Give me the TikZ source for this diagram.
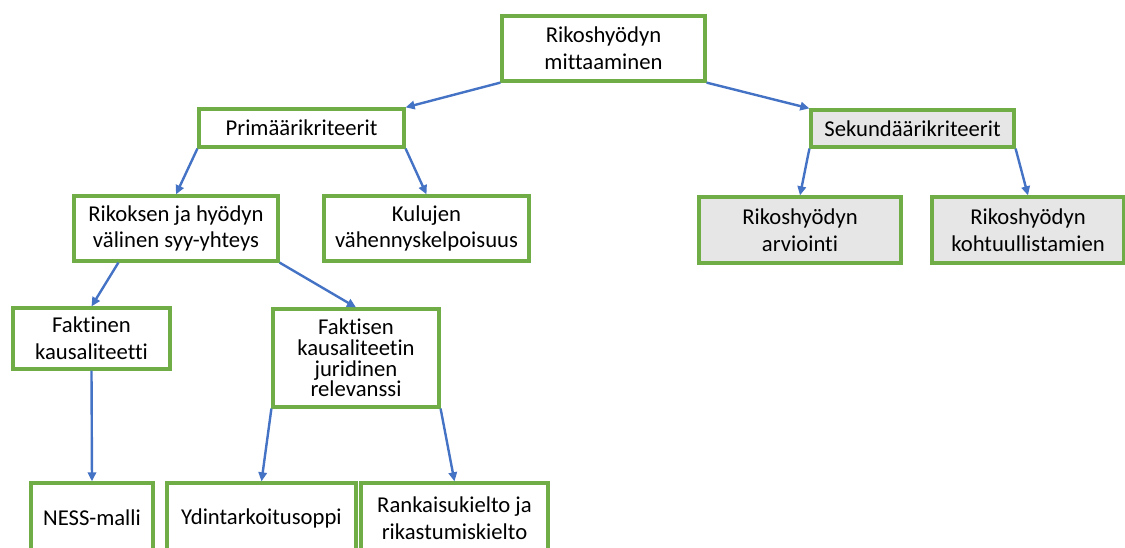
\documentclass[tikz,border=0pt]{standalone}
\usepackage{fontspec}
\setmainfont[Ligatures=NoCommon]{Carlito}
\usepackage{xcolor}
\usetikzlibrary{arrows.meta,positioning,calc}
\definecolor{boxgreen}{RGB}{112,173,71}
\definecolor{linkblue}{RGB}{68,114,196}
\definecolor{boxgray}{RGB}{231,230,230}

\begin{document}
\begin{tikzpicture}[
  x=0.75pt, y=-0.75pt,
  font=\fontsize{17}{20}\selectfont,
  b/.style={draw=boxgreen, line width=2.4pt, fill=white, align=center,
            inner sep=0pt, minimum width=#1*0.75pt},
  b/.default=200,
  g/.style={fill=boxgray},
  ar/.style={-{Triangle[length=2.4mm,width=2.2mm]}, line width=1.8pt, linkblue}
]
\useasboundingbox (0,0) rectangle (1125,547);
\node[b=203, minimum height=65*0.75pt] (top) at (603.5,48.5) {Rikoshyödyn\\mittaaminen};
\node[b=205, minimum height=38*0.75pt] (prim) at (301.5,128) {Primäärikriteerit};
\node[b=203, g, minimum height=37*0.75pt] (sek) at (912.5,128.5) {Sekundäärikriteerit};
\node[b=204, minimum height=65*0.75pt] (rik) at (176,228.5) {Rikoksen ja hyödyn\\välinen syy-yhteys};
\node[b=205, minimum height=65*0.75pt] (kul) at (426.5,228.5) {Kulujen\\vähennyskelpoisuus};
\node[b=202, g, minimum height=66*0.75pt] (arv) at (800,230) {Rikoshyödyn\\arviointi};
\node[b=192, g, minimum height=66*0.75pt] (koh) at (1028,230) {Rikoshyödyn\\kohtuullistamien};
\node[b=157, minimum height=61*0.75pt] (fak) at (91.5,338.5) {Faktinen\\kausaliteetti};
\node[b=166, minimum height=98*0.75pt, font=\fontsize{17}{15.5}\selectfont] (fks) at (356,358) {Faktisen\\kausaliteetin\\juridinen\\relevanssi};
\node[b=122, minimum height=70*0.75pt] (ness) at (92,518) {NESS-malli};
\node[b=189, minimum height=70*0.75pt] (ydin) at (261.5,518) {Ydintarkoitusoppi};
\node[b=187, minimum height=70*0.75pt] (rank) at (454.5,518) {Rankaisukielto ja\\rikastumiskielto};

\draw[ar] (top.south west) -- (prim.north east);
\draw[ar] (top.south east) -- (sek.north west);
\draw[ar] (prim.south west) -- (rik.north);
\draw[ar] (prim.south east) -- (kul.north);
\draw[ar] ($(rik.south west)+(46,0)$) -- (fak.north);
\draw[ar] (rik.south east) -- (fks.north);
\draw[ar] (fak.south) -- (ness.north);
\draw[ar] (fks.south west) -- (ydin.north);
\draw[ar] (fks.south east) -- (rank.north);
\draw[ar] (sek.south west) -- (arv.north);
\draw[ar] (sek.south east) -- (koh.north);
\end{tikzpicture}
\end{document}
